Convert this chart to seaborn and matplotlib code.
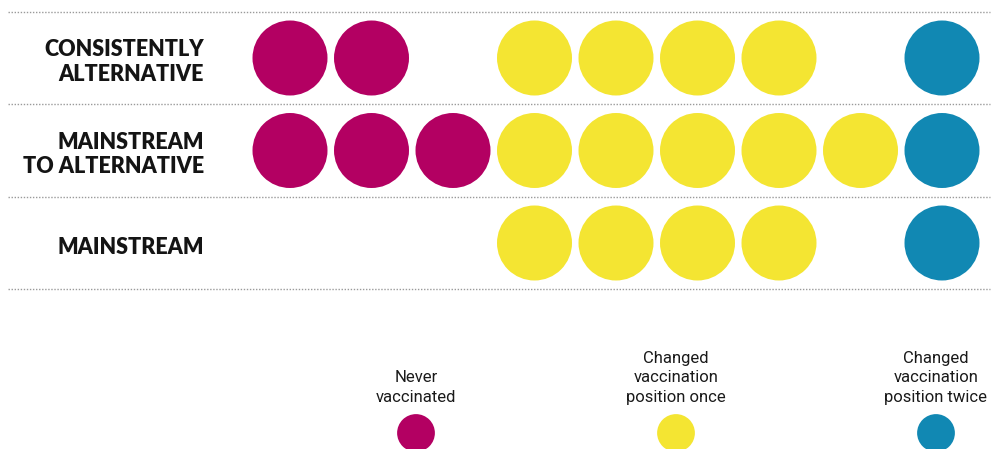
import matplotlib
matplotlib.use('Agg')
import matplotlib.pyplot as plt
import seaborn as sns
import pandas as pd

# counts of people per group (one circle each)
groups = ['CONSISTENTLY\nALTERNATIVE', 'MAINSTREAM\nTO ALTERNATIVE', 'MAINSTREAM']
never_vaccinated = [2, 3, 0]
changed_once = [4, 5, 4]
changed_twice = [1, 1, 1]

kinds = ['Never\nvaccinated', 'Changed\nvaccination\nposition once', 'Changed\nvaccination\nposition twice']
colors = ['#B30062', '#F4E532', '#1188B3']

# first slot of each kind along a row
slot_start = [0, 3, 8]

rows = []
for r, g in enumerate(groups):
    for k, counts in enumerate([never_vaccinated, changed_once, changed_twice]):
        for i in range(counts[r]):
            rows.append({'group': g, 'row': r, 'slot': slot_start[k] + i, 'kind': kinds[k]})
df = pd.DataFrame(rows)

sns.set_style('white')
W, H = 992, 449
fig = plt.figure(figsize=(W / 100, H / 100), dpi=100)

# main axes: slots 81.5px apart starting at x=290, rows 92.5px apart starting at y=58
ax = fig.add_axes([0, 0, 1, 1])
sns.scatterplot(data=df, x='slot', y='row', hue='kind', palette=dict(zip(kinds, colors)),
                s=2916, linewidth=0, legend=False, ax=ax)
ax.set_xlim((0 - 290) / 81.5, (W - 290) / 81.5)
ax.set_ylim((H - 58) / 92.5, (0 - 58) / 92.5)
ax.axis('off')

for y in [-0.5, 0.5, 1.5, 2.5]:
    ax.axhline(y, xmin=8 / W, xmax=990 / W, color='#9a9a9a', lw=1.0,
               linestyle=(0, (1, 1.2)), zorder=0)

label_x = 204 / W
for r, g in enumerate(groups):
    ax.annotate(g, (label_x, r), xycoords=ax.get_yaxis_transform(), xytext=(0, -3),
                textcoords='offset points', ha='right', va='center', ma='right',
                fontsize=15.5, fontweight='heavy', family='Lato', color='#141414',
                linespacing=1.2)

# legend row at the bottom
leg = fig.add_axes([0, 0, 1, 32 / H])
legend_df = pd.DataFrame({'kind': kinds, 'x': [0, 1, 2], 'y': [0, 0, 0]})
sns.scatterplot(data=legend_df, x='x', y='y', hue='kind', palette=dict(zip(kinds, colors)),
                s=740, linewidth=0, legend=False, ax=leg, clip_on=False)
leg.set_xlim((0 - 416) / 260, (W - 416) / 260)
leg.set_ylim(-1, 1)
leg.axis('off')
for i, k in enumerate(kinds):
    leg.annotate(k, (i, 0), xytext=(0, 20), textcoords='offset points', ha='center',
                 va='bottom', ma='center', fontsize=12, family='Roboto', color='#1a1a1a',
                 linespacing=1.4)

fig.savefig('out.png', dpi=100)
